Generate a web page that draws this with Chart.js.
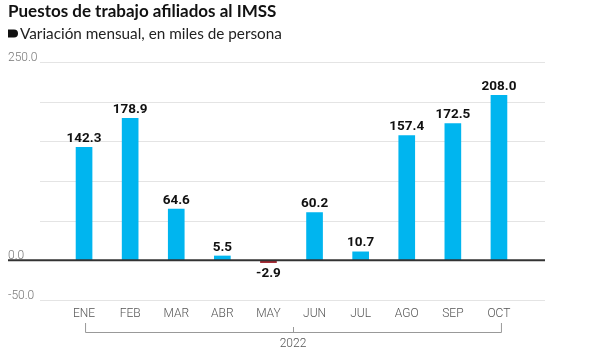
<!DOCTYPE html>
<html><head><meta charset="utf-8">
<script src="https://cdn.jsdelivr.net/npm/chart.js@4"></script>
<style>html,body{margin:0;padding:0;background:#fff}#wrap{width:600px;height:356px}</style>
</head><body><div id="wrap"><canvas id="c"></canvas></div>
<script>
const categories = ['ENE','FEB','MAR','ABR','MAY','JUN','JUL','AGO','SEP','OCT'];
const values = [142.3, 178.9, 64.6, 5.5, -2.9, 60.2, 10.7, 157.4, 172.5, 208.0];
const yLabeled = [-50, 0, 250];
const titleText = 'Puestos de trabajo afiliados al IMSS';
const subtitleText = 'Variación mensual, en miles de persona';
const yearLabel = '2022';

const POS = '#00b5ef', NEG = '#a3262f';

const deco = {
  id: 'deco',
  beforeDatasetsDraw(chart) {
    const {ctx} = chart; const y = chart.scales.y;
    ctx.save();
    ctx.strokeStyle = '#e4e4e4'; ctx.lineWidth = 1;
    y.ticks.forEach(t => {
      if (t.value === 0) return;
      const py = Math.round(y.getPixelForValue(t.value)) + 0.5;
      ctx.beginPath(); ctx.moveTo(40, py); ctx.lineTo(545, py); ctx.stroke();
    });
    ctx.restore();
  },
  afterDatasetsDraw(chart) {
    const {ctx} = chart; const y = chart.scales.y; const x = chart.scales.x;
    ctx.save();
    const zy = y.getPixelForValue(0);
    ctx.strokeStyle = '#333'; ctx.lineWidth = 2;
    ctx.beginPath(); ctx.moveTo(8, zy); ctx.lineTo(545, zy); ctx.stroke();
    const meta = chart.getDatasetMeta(0);
    ctx.font = 'bold 13.5px Roboto'; ctx.fillStyle = '#111'; ctx.textAlign = 'center';
    meta.data.forEach((bar, i) => {
      const v = values[i];
      if (v >= 0) { ctx.textBaseline = 'bottom'; ctx.fillText(v.toFixed(1), bar.x, bar.y - 2); }
      else { ctx.textBaseline = 'top'; ctx.fillText(v.toFixed(1), bar.x, bar.y + 4); }
    });
    ctx.textAlign = 'left'; ctx.textBaseline = 'middle';
    ctx.fillStyle = '#111'; ctx.font = 'bold 17px Lato';
    ctx.fillText(titleText, 8, 12);
    ctx.font = '15.3px Lato'; ctx.fillStyle = '#222';
    ctx.fillText(subtitleText, 20, 34);
    ctx.beginPath();
    ctx.moveTo(8, 29.5); ctx.lineTo(14, 29.5);
    ctx.arc(14, 33.5, 4, -Math.PI/2, Math.PI/2);
    ctx.lineTo(8, 37.5); ctx.closePath(); ctx.fillStyle = '#111'; ctx.fill();
    const x0 = x.getPixelForValue(0) + 1, x1 = x.getPixelForValue(categories.length - 1) + 2;
    const xm = (x0 + x1) / 2;
    ctx.strokeStyle = '#999'; ctx.lineWidth = 1;
    ctx.beginPath();
    ctx.moveTo(x0 + 0.5, 323); ctx.lineTo(x0 + 0.5, 332.5); ctx.lineTo(x1 + 0.5, 332.5); ctx.lineTo(x1 + 0.5, 323);
    ctx.moveTo(Math.round(xm) + 0.5, 332.5); ctx.lineTo(Math.round(xm) + 0.5, 327);
    ctx.stroke();
    ctx.fillStyle = '#555'; ctx.font = '300 12px Roboto'; ctx.textAlign = 'center';
    ctx.fillText(yearLabel, xm, 344);
    ctx.restore();
  }
};

new Chart(document.getElementById('c'), {
  type: 'bar',
  data: {
    labels: categories,
    datasets: [{
      data: values,
      backgroundColor: values.map(v => v >= 0 ? POS : NEG),
      barThickness: 16,
      borderWidth: 0
    }]
  },
  options: {
    responsive: true, maintainAspectRatio: false, animation: false,
    layout: { padding: { top: 62, right: 78, left: 8, bottom: 0 } },
    plugins: { legend: { display: false }, tooltip: { enabled: false } },
    scales: {
      x: {
        grid: { display: false, drawTicks: false },
        border: { display: false },
        ticks: { color: '#555', font: { family: 'Roboto', size: 12, weight: '300' }, padding: 7, maxRotation: 0 },
        afterFit(s) { s.height = 56; }
      },
      y: {
        min: -50, max: 250,
        grid: { display: false, drawTicks: false },
        border: { display: false },
        ticks: {
          stepSize: 50, crossAlign: 'far', labelOffset: -4, padding: 0,
          color: '#777', font: { family: 'Roboto', size: 12, weight: '300' },
          callback: v => yLabeled.includes(v) ? v.toFixed(1) : ''
        },
        afterFit(s) { s.width = 53; }
      }
    }
  },
  plugins: [deco]
});
</script>
</body></html>
